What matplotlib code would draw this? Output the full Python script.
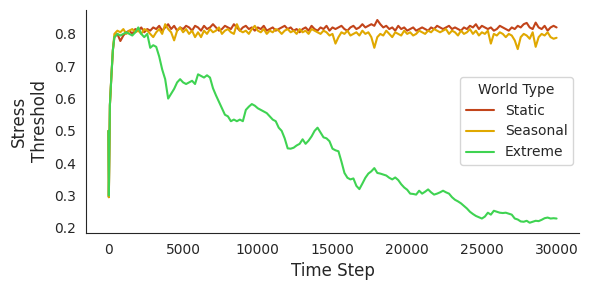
import matplotlib
matplotlib.use("Agg")
import matplotlib.pyplot as plt
import seaborn as sns

# time grid (dense at the very start)
steps = [0, 30, 100, 200, 300] + list(range(400, 30001, 200))

start = [0.50, 0.295, 0.58, 0.67, 0.75]

static = start + [
    0.79, 0.80, 0.778, 0.795, 0.805, 0.81, 0.80, 0.815, 0.81, 0.82, 0.805, 0.815, 0.81, 0.82,
    0.815, 0.825, 0.81, 0.82, 0.83, 0.815, 0.825, 0.81, 0.82, 0.815, 0.825, 0.82, 0.81, 0.825, 0.82,
    0.81, 0.825, 0.815, 0.82, 0.83, 0.82, 0.81, 0.815, 0.825, 0.82, 0.815, 0.83, 0.82, 0.81, 0.82,
    0.825, 0.815, 0.82, 0.81, 0.82, 0.815, 0.825, 0.81, 0.815, 0.82, 0.81, 0.815, 0.82, 0.825, 0.815,
    0.82, 0.81, 0.815, 0.805, 0.815, 0.82, 0.81, 0.825, 0.815, 0.81, 0.82, 0.815, 0.825, 0.81, 0.82,
    0.815, 0.82, 0.825, 0.815, 0.81, 0.82, 0.825, 0.815, 0.82, 0.83, 0.82, 0.825, 0.83, 0.825, 0.843,
    0.83, 0.82, 0.825, 0.815, 0.82, 0.81, 0.825, 0.815, 0.82, 0.81, 0.815, 0.82, 0.81, 0.815, 0.82,
    0.815, 0.81, 0.82, 0.815, 0.825, 0.82, 0.815, 0.82, 0.825, 0.815, 0.82, 0.815, 0.81, 0.82, 0.815,
    0.825, 0.82, 0.83, 0.815, 0.825, 0.82, 0.815, 0.82, 0.81, 0.815, 0.825, 0.82, 0.815, 0.81, 0.82,
    0.815, 0.825, 0.82, 0.83, 0.834, 0.82, 0.815, 0.835, 0.82, 0.815, 0.825, 0.81, 0.82, 0.825, 0.82,
]

seasonal = start + [
    0.80, 0.81, 0.805, 0.815, 0.80, 0.81, 0.815, 0.805, 0.81, 0.80, 0.815, 0.81, 0.80, 0.79,
    0.805, 0.815, 0.80, 0.83, 0.815, 0.805, 0.78, 0.81, 0.82, 0.805, 0.815, 0.80, 0.81, 0.79, 0.805,
    0.79, 0.81, 0.80, 0.815, 0.805, 0.81, 0.82, 0.80, 0.81, 0.815, 0.805, 0.80, 0.83, 0.81, 0.805,
    0.81, 0.80, 0.815, 0.825, 0.81, 0.805, 0.815, 0.80, 0.81, 0.805, 0.815, 0.81, 0.80, 0.81, 0.815,
    0.805, 0.81, 0.80, 0.815, 0.805, 0.81, 0.80, 0.815, 0.81, 0.805, 0.80, 0.81, 0.805, 0.795, 0.80,
    0.77, 0.79, 0.805, 0.80, 0.81, 0.795, 0.80, 0.805, 0.795, 0.81, 0.80, 0.805, 0.79, 0.757, 0.79,
    0.80, 0.795, 0.81, 0.80, 0.79, 0.805, 0.80, 0.795, 0.81, 0.80, 0.805, 0.795, 0.80, 0.81, 0.805,
    0.80, 0.81, 0.805, 0.815, 0.81, 0.805, 0.81, 0.815, 0.80, 0.81, 0.805, 0.795, 0.81, 0.80, 0.805,
    0.815, 0.80, 0.81, 0.795, 0.805, 0.80, 0.81, 0.77, 0.80, 0.795, 0.805, 0.80, 0.79, 0.80, 0.795,
    0.78, 0.753, 0.79, 0.80, 0.795, 0.785, 0.805, 0.76, 0.79, 0.80, 0.795, 0.805, 0.79, 0.785, 0.788,
]

extreme = [0.50, 0.30, 0.58, 0.67, 0.75] + [
    0.79, 0.80, 0.795, 0.80, 0.805, 0.80, 0.795, 0.805, 0.82, 0.80, 0.79, 0.80, 0.757, 0.765,
    0.76, 0.73, 0.69, 0.66, 0.60, 0.615, 0.63, 0.65, 0.66, 0.65, 0.645, 0.65, 0.655, 0.645, 0.675,
    0.67, 0.665, 0.672, 0.665, 0.632, 0.61, 0.59, 0.57, 0.55, 0.545, 0.53, 0.535, 0.53, 0.535, 0.53,
    0.565, 0.575, 0.583, 0.578, 0.57, 0.565, 0.56, 0.555, 0.545, 0.535, 0.53, 0.51, 0.50, 0.477, 0.446,
    0.445, 0.448, 0.455, 0.46, 0.474, 0.46, 0.47, 0.483, 0.50, 0.51, 0.495, 0.48, 0.477, 0.468, 0.445,
    0.44, 0.437, 0.405, 0.37, 0.355, 0.35, 0.353, 0.33, 0.32, 0.337, 0.355, 0.368, 0.375, 0.385, 0.37,
    0.368, 0.365, 0.362, 0.355, 0.35, 0.356, 0.348, 0.335, 0.325, 0.318, 0.306, 0.305, 0.303, 0.315, 0.306,
    0.312, 0.319, 0.31, 0.303, 0.306, 0.31, 0.315, 0.31, 0.306, 0.295, 0.287, 0.282, 0.276, 0.268, 0.26,
    0.25, 0.243, 0.237, 0.233, 0.229, 0.235, 0.247, 0.241, 0.253, 0.25, 0.247, 0.246, 0.247, 0.244, 0.241,
    0.229, 0.226, 0.22, 0.219, 0.222, 0.216, 0.219, 0.222, 0.221, 0.225, 0.23, 0.232, 0.229, 0.23, 0.229,
]

assert len(static) == len(steps), len(static)
assert len(seasonal) == len(steps), len(seasonal)
assert len(extreme) == len(steps), len(extreme)

sns.set_style("white")
plt.rcParams['font.family'] = ['DejaVu Sans']

fig = plt.figure(figsize=(5.89, 2.9), dpi=100)
ax = fig.add_axes([0.146, 0.197, 0.837, 0.769])

ax.plot(steps, static, color='#c2441a', lw=1.5, label='Static')
ax.plot(steps, seasonal, color='#e0a800', lw=1.5, label='Seasonal')
ax.plot(steps, extreme, color='#3fd352', lw=1.5, label='Extreme')

ax.set_xlabel('Time Step', fontsize=12)
ax.set_ylabel('Stress\nThreshold', fontsize=12)
ax.set_yticks([0.2, 0.3, 0.4, 0.5, 0.6, 0.7, 0.8])
ax.tick_params(labelsize=10)
sns.despine(ax=ax)

ax.legend(title='World Type', fontsize=10, title_fontsize=10,
          loc='upper right', bbox_to_anchor=(1.002, 0.73))

fig.savefig('out.png', dpi=100)
